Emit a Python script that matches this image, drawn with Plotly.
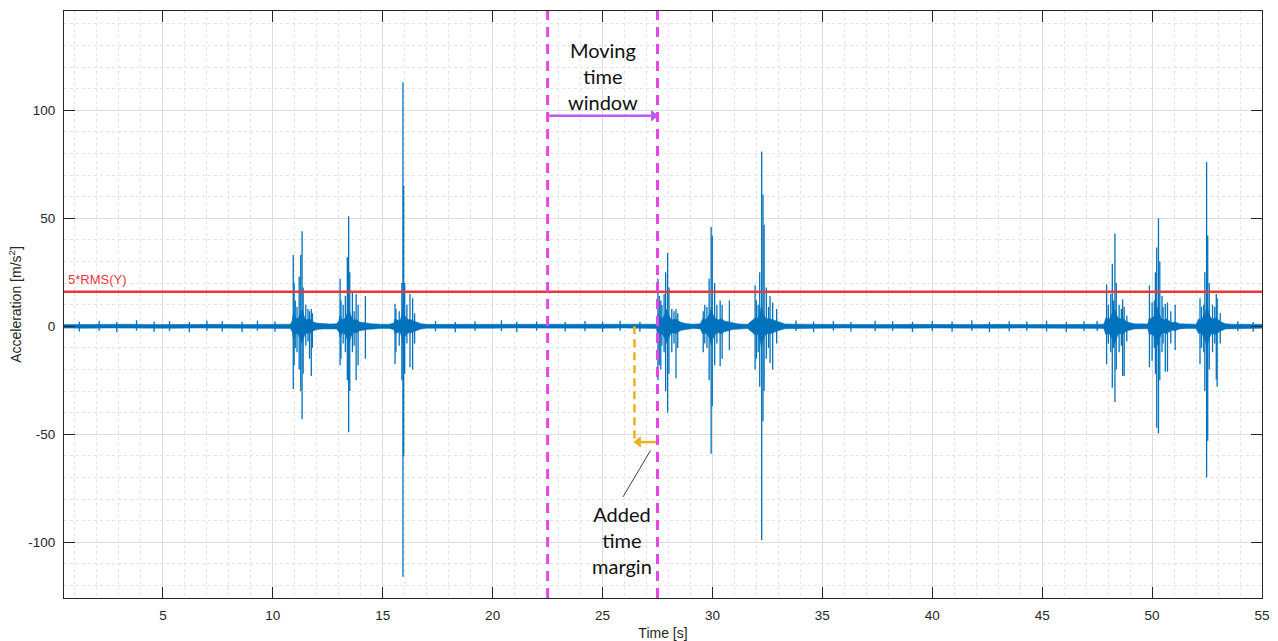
import plotly.graph_objects as go

# ---------------- data ----------------
x_ticks = [5, 10, 15, 20, 25, 30, 35, 40, 45, 50, 55]
y_ticks = [-100, -50, 0, 50, 100]

rms_threshold = 16          # 5*RMS(Y) level
window_start = 22.5         # moving time window edges
window_end = 27.5
margin_start = 26.45        # added time margin
arrow_window_y = 97.5
arrow_margin_y = -53.6

# noise floor envelope in quiet parts
quiet_t = [0.5, 1.5, 2.5, 3.5, 4.5, 5.5, 6.5, 7.5, 8.5, 9.5, 10.5,
           18, 19, 20, 21, 22, 23, 24, 25, 26, 27,
           34, 35, 36, 37, 38, 39, 40, 41, 42, 43, 44, 45, 46, 47,
           54, 55]
quiet_amp = [0.8, 0.9, 0.8, 1.0, 0.8, 0.9, 0.8, 0.9, 0.8, 0.9, 1.0,
             0.9, 0.8, 0.9, 0.8, 0.9, 0.8, 0.8, 0.9, 0.8, 0.9,
             1.0, 0.9, 0.8, 0.9, 0.8, 0.9, 0.8, 0.9, 0.8, 0.9, 0.8, 0.9, 0.8, 0.9,
             1.0, 0.9]

# dense envelope of event 1 (about 11-17 s)
ev1_t = [10.8, 10.88, 10.93, 10.98, 11.05, 11.15, 11.22, 11.3, 11.36, 11.45,
         11.55, 11.65, 11.75, 11.85, 12.0, 12.3, 12.6, 12.9, 13.0, 13.06,
         13.12, 13.2, 13.3, 13.4, 13.46, 13.55, 13.65, 13.8, 13.95, 14.1,
         14.25, 14.5, 14.9, 15.3, 15.5, 15.56, 15.65, 15.78, 15.88, 15.93,
         16.0, 16.1, 16.2, 16.3, 16.4, 16.55, 16.75, 17.0]
ev1_amp = [1.0, 2.5, 6, 5, 3.5, 3.5, 5.5, 7.5, 7, 4,
           3, 3.5, 3, 2, 1.5, 1.2, 1.1, 1.2, 2.5, 5,
           3.5, 3, 4, 6.5, 8, 5, 3, 3, 2, 1.8,
           1.5, 1.2, 1.0, 1.0, 1.5, 3.5, 3, 2.5, 5.5, 9,
           5, 3.5, 3, 3, 2.5, 1.8, 1.2, 0.9]

# dense envelope of event 2 (about 27.5-33 s)
ev2_t = [27.45, 27.52, 27.58, 27.66, 27.75, 27.85, 27.93, 28.0, 28.1, 28.2,
         28.32, 28.45, 28.6, 28.8, 29.1, 29.45, 29.55, 29.62, 29.75, 29.88,
         29.95, 30.03, 30.15, 30.28, 30.4, 30.55, 30.75, 30.9, 31.2, 31.6,
         31.88, 31.95, 32.05, 32.15, 32.23, 32.3, 32.4, 32.5, 32.62, 32.75,
         32.9, 33.05, 33.3]
ev2_amp = [1.0, 5.5, 5, 3.5, 4, 6, 8, 5.5, 3.5, 3,
           3.5, 2.5, 1.8, 1.3, 1.0, 1.2, 3.5, 3, 3.5, 6,
           9, 5.5, 3.5, 3, 3.5, 2.5, 2, 1.5, 1.1, 1.0,
           3.5, 4, 3.5, 5.5, 10, 6.5, 4, 3.5, 3.5, 3,
           2.5, 1.8, 1.1]

# dense envelope of event 3 (about 48-53.5 s)
ev3_t = [47.8, 47.9, 47.96, 48.05, 48.15, 48.22, 48.3, 48.38, 48.48, 48.6,
         48.7, 48.8, 48.95, 49.2, 49.5, 49.8, 49.88, 49.96, 50.08, 50.18,
         50.25, 50.32, 50.42, 50.55, 50.66, 50.78, 50.92, 51.05, 51.25, 51.6,
         52.0, 52.12, 52.2, 52.3, 52.42, 52.5, 52.58, 52.7, 52.82, 52.92,
         53.0, 53.15, 53.35, 53.6]
ev3_amp = [1.0, 4, 3.5, 3.5, 5.5, 6.5, 8, 5.5, 3.5, 3.5,
           3.5, 2.5, 1.8, 1.2, 1.0, 1.1, 4, 3.5, 4.5, 6.5,
           9, 6, 3.5, 3, 3.5, 2.5, 1.8, 2, 1.2, 1.0,
           1.0, 3.5, 3, 4, 6.5, 10, 6, 3.5, 3.5, 4,
           3, 2, 1.2, 1.0]

# individual spikes (time, max, min)
spike_t = [10.93, 10.97, 11.02, 11.1, 11.2, 11.27, 11.33, 11.38, 11.5, 11.6, 11.67, 11.75, 11.8,
           13.06, 13.1, 13.2, 13.3, 13.39, 13.45, 13.5, 13.62, 13.7, 13.79, 13.88, 14.21,
           15.56, 15.6, 15.75, 15.87, 15.92, 15.95, 16.0, 16.1, 16.24, 16.36, 16.45,
           27.52, 27.58, 27.65, 27.7, 27.8, 27.87, 27.96, 28.02, 28.15, 28.25, 28.34, 28.42,
           29.58, 29.65, 29.75, 29.85, 29.94, 29.99, 30.1, 30.2, 30.35, 30.44, 30.77,
           31.94, 32.0, 32.08, 32.15, 32.24, 32.3, 32.35, 32.45, 32.55, 32.62, 32.74, 32.92,
           47.93, 48.01, 48.12, 48.19, 48.25, 48.31, 48.37, 48.5, 48.6, 48.66, 48.73, 48.85,
           49.88, 50.0, 50.1, 50.15, 50.21, 50.29, 50.35, 50.45, 50.5, 50.6, 50.7, 50.85, 51.05,
           52.18, 52.25, 52.35, 52.4, 52.48, 52.53, 52.6, 52.75, 52.85, 52.92, 52.96, 53.1]
spike_hi = [33, 20, 12, 9, 23, 33, 44, 18, 10, 8, 7, 8, 6,
            22, 12, 10, 14, 32, 51, 25, 16, 7, 15, 10, 14,
            10.5, 8, 7, 20, 113, 65, 20, 10, 15, 13, 6,
            22, 14, 12, 10, 15, 25, 34, 18, 8, 7, 8, 6,
            7, 10, 9, 22, 46, 42, 20, 10, 12, 10, 12,
            19, 12, 10, 25, 81, 61, 47, 18, 9, 14, 11, 8,
            19.5, 10, 15, 29, 12, 43, 20, 10, 8, 12.5, 9, 5,
            19, 11, 12, 25, 36.5, 50, 30, 14, 9, 10.5, 11, 7, 10,
            13, 9, 10, 25, 76, 42, 20, 10, 9, 15, 13, 6]
spike_lo = [-29, -18, -10, -12, -20, -30, -43, -22, -9, -7, -15, -23, -10,
            -18, -15, -8, -12, -25, -49, -30, -12, -9, -25, -18, -15,
            -17.5, -12, -9, -25, -116, -60, -22, -8, -19, -20, -8,
            -25, -18, -20, -9, -12, -30, -40, -22, -12, -8, -24, -10,
            -12, -8, -10, -25, -59, -37, -18, -8, -18.5, -15, -11,
            -20, -15, -12, -28, -99, -44, -30, -15, -10, -17, -20, -8,
            -17.6, -8, -12, -28.5, -10, -35, -20, -12, -9, -23, -23, -7,
            -19, -16, -10, -22, -47, -49.6, -25, -12, -8, -21, -21, -8, -11,
            -17.6, -10, -12, -30, -70, -53, -20, -12, -8, -24.6, -28, -8]

# small spikes of the noise floor
tiny_t = [1.2, 2.1, 2.9, 3.8, 4.6, 5.3, 6.2, 7.0, 7.7, 8.6,
          9.3, 10.1, 17.4, 18.3, 19.2, 20.4, 21.1, 22.0, 23.3, 24.2,
          25.0, 25.8, 26.7, 33.8, 34.6, 35.5, 36.3, 37.4, 38.2, 39.1,
          40.0, 40.9, 41.8, 42.6, 43.5, 44.3, 45.2, 46.1, 46.9, 47.5,
          53.9, 54.6]
tiny_hi = [2.2, 2.6, 2.0, 2.8, 2.2, 2.4, 2.0, 2.7, 2.3, 2.1,
           2.6, 2.2, 2.5, 2.0, 2.4, 2.8, 2.1, 2.3, 2.0, 2.5,
           2.2, 2.6, 2.1, 2.7, 2.2, 2.4, 2.0, 2.6, 2.3, 2.1,
           2.5, 2.2, 2.8, 2.0, 2.4, 2.2, 2.6, 2.1, 2.3, 2.5,
           2.4, 2.0]
tiny_lo = [-2.4, -2.1, -2.7, -2.0, -2.5, -2.2, -2.8, -2.1, -2.4, -2.6,
           -2.0, -2.5, -2.3, -2.7, -2.1, -2.2, -2.6, -2.0, -2.4, -2.3,
           -2.6, -2.1, -2.5, -2.2, -2.7, -2.0, -2.4, -2.3, -2.1, -2.6,
           -2.2, -2.5, -2.0, -2.7, -2.3, -2.1, -2.4, -2.6, -2.2, -2.0,
           -2.3, -2.5]

# ---------------- styles ----------------
SIG = "#0072BD"
RED = "#E8383B"
MAG = "#E646E6"
PURPLE = "#B75CF2"
ORANGE = "#EDB120"
AXC = "#262626"
FONT = "Liberation Sans, Arial, sans-serif"
NOTE_FONT = "Lato, Open Sans, sans-serif"

fig = go.Figure()

# band (noise floor + dense burst envelopes)
env = sorted(list(zip(quiet_t, quiet_amp)) + list(zip(ev1_t, ev1_amp)) +
             list(zip(ev2_t, ev2_amp)) + list(zip(ev3_t, ev3_amp)))
bx = [p[0] for p in env] + [p[0] for p in reversed(env)]
by = [p[1] for p in env] + [-p[1] for p in reversed(env)]
fig.add_trace(go.Scatter(x=bx, y=by, mode="lines", fill="toself",
                         fillcolor=SIG, line=dict(color=SIG, width=0.5),
                         hoverinfo="skip", showlegend=False))

# spikes as vertical strokes
sx, sy = [], []
for t, h, l in list(zip(spike_t, spike_hi, spike_lo)) + list(zip(tiny_t, tiny_hi, tiny_lo)):
    sx += [t, t, None]
    sy += [l, h, None]
fig.add_trace(go.Scatter(x=sx, y=sy, mode="lines", line=dict(color=SIG, width=1.3),
                         hoverinfo="skip", showlegend=False))

# threshold line
fig.add_trace(go.Scatter(x=[0.5, 55], y=[rms_threshold, rms_threshold], mode="lines",
                         line=dict(color=RED, width=2.5), showlegend=False))

# moving window edges
for xv in (window_start, window_end):
    fig.add_shape(type="line", xref="x", yref="paper", x0=xv, x1=xv, y0=0, y1=1,
                  line=dict(color=MAG, width=3, dash="10px,7px"))

# added margin dashed line
fig.add_shape(type="line", xref="x", yref="y", x0=margin_start, x1=margin_start,
              y0=0, y1=arrow_margin_y, line=dict(color=ORANGE, width=2.5, dash="8px,5px"))

# pointer line to margin label
fig.add_shape(type="line", xref="x", yref="y", x0=27.18, y0=-57.5, x1=25.93, y1=-79,
              line=dict(color="#404040", width=1))

# arrows: shaft + head marker
fig.add_trace(go.Scatter(x=[window_start, window_end - 0.3], y=[arrow_window_y, arrow_window_y],
                         mode="lines", line=dict(color=PURPLE, width=2.5),
                         hoverinfo="skip", showlegend=False))
fig.add_trace(go.Scatter(x=[window_end - 0.18], y=[arrow_window_y], mode="markers",
                         marker=dict(symbol="triangle-right", size=10, color=PURPLE,
                                     line=dict(width=0)),
                         hoverinfo="skip", showlegend=False))
fig.add_trace(go.Scatter(x=[window_end, margin_start + 0.3], y=[arrow_margin_y, arrow_margin_y],
                         mode="lines", line=dict(color=ORANGE, width=2.5),
                         hoverinfo="skip", showlegend=False))
fig.add_trace(go.Scatter(x=[margin_start + 0.18], y=[arrow_margin_y], mode="markers",
                         marker=dict(symbol="triangle-left", size=10, color=ORANGE,
                                     line=dict(width=0)),
                         hoverinfo="skip", showlegend=False))

# notes
fig.add_annotation(x=25.0, y=115.8, xref="x", yref="y", showarrow=False,
                   text="Moving<br>time<br>window", align="center",
                   font=dict(family=NOTE_FONT, size=20, color="#111111"))
fig.add_annotation(x=25.9, y=-99, xref="x", yref="y", showarrow=False,
                   text="Added<br>time<br>margin", align="center",
                   font=dict(family=NOTE_FONT, size=20, color="#111111"))
fig.add_annotation(x=0.6, y=rms_threshold + 1.2, xref="x", yref="y", showarrow=False,
                   xanchor="left", yanchor="bottom", text="5*RMS(Y)",
                   font=dict(family=FONT, size=13, color=RED))

axis_common = dict(showline=True, linecolor=AXC, linewidth=1, mirror="ticks",
                   ticks="inside", ticklen=11, tickcolor=AXC, tickwidth=1,
                   showgrid=True, gridcolor="#dcdcdc", gridwidth=1, zeroline=False,
                   tickfont=dict(family=FONT, size=13.5, color=AXC))

fig.update_xaxes(range=[0.5, 55], tickvals=x_ticks, ticktext=[str(v) for v in x_ticks],
                 minor=dict(dtick=1, tick0=0, showgrid=True, gridcolor="#e4e4e4",
                            griddash="dot", ticklen=0),
                 title=dict(text="Time [s]", font=dict(family=FONT, size=14, color=AXC),
                            standoff=6),
                 ticklabelstandoff=5, **axis_common)
fig.update_yaxes(range=[-125.8, 146], tickvals=y_ticks, ticktext=[str(v) for v in y_ticks],
                 minor=dict(dtick=10, tick0=0, showgrid=True, gridcolor="#e4e4e4",
                            griddash="dot", ticklen=0),
                 title=dict(text="Acceleration [m/s<sup>2</sup>]",
                            font=dict(family=FONT, size=14, color=AXC), standoff=3),
                 ticklabelstandoff=5, **axis_common)

fig.update_layout(width=1278, height=641, autosize=False,
                  margin=dict(l=64, r=16, t=11, b=43, autoexpand=False),
                  paper_bgcolor="white", plot_bgcolor="white", showlegend=False)

fig.write_html("out.html")
